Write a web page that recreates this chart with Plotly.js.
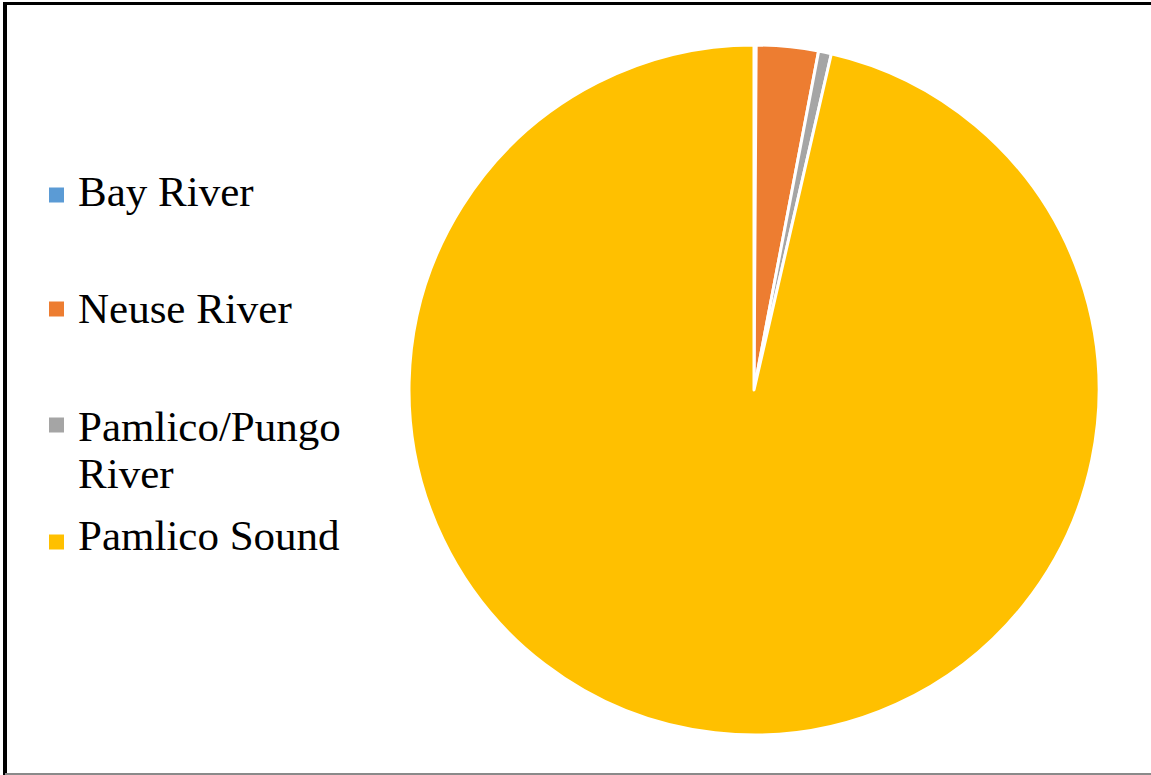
<!DOCTYPE html>
<html>
<head>
<meta charset="utf-8">
<script src="https://cdn.plot.ly/plotly-3.0.1.min.js"></script>
<style>
html, body { margin: 0; padding: 0; background: #fff; }
#chart { width: 1151px; height: 775px; }
</style>
</head>
<body>
<div id="chart"></div>
<script>
// Data
const labels = ["Bay River", "Neuse River", "Pamlico/Pungo River", "Pamlico Sound"];
const legendLines = [["Bay River"], ["Neuse River"], ["Pamlico/Pungo", "River"], ["Pamlico Sound"]];
const values = [0.1, 2.9, 0.6, 96.4];
const colors = ["#5B9BD5", "#ED7D31", "#A5A5A5", "#FFC000"];

// Layout helpers (pixel positions for the legend entries)
const W = 1151, H = 775;
const legendTextCenterY = [191, 308, 426, 535];
const legendLineGap = 47;
const legendMarkerCenterY = [195, 309, 425, 542];
const fontFamily = "Liberation Serif, Times New Roman, serif";

const px = x => x / W;
const py = y => 1 - y / H;

const annotations = [];
legendLines.forEach((lines, i) => {
  lines.forEach((t, j) => {
    annotations.push({
      xref: 'paper', yref: 'paper',
      x: px(76), y: py(legendTextCenterY[i] + j * legendLineGap),
      xanchor: 'left', yanchor: 'middle', align: 'left',
      text: t, showarrow: false,
      font: { family: fontFamily, size: 43, color: '#000' }
    });
  });
});

const shapes = colors.map((c, i) => ({
  type: 'rect', xref: 'paper', yref: 'paper',
  x0: px(49), x1: px(64),
  y0: py(legendMarkerCenterY[i] + 7.5), y1: py(legendMarkerCenterY[i] - 7.5),
  fillcolor: c, line: { width: 0 }
}));

// Frame lines
shapes.push(
  { type: 'line', xref: 'paper', yref: 'paper', x0: px(3), x1: 1, y0: py(3.5), y1: py(3.5), line: { color: '#000', width: 3 } },
  { type: 'line', xref: 'paper', yref: 'paper', x0: px(5), x1: px(5), y0: py(2), y1: 0, line: { color: '#000', width: 4 } },
  { type: 'line', xref: 'paper', yref: 'paper', x0: px(5), x1: 1, y0: py(774), y1: py(774), line: { color: '#8a8a8a', width: 2 } }
);

const trace = {
  type: 'pie',
  labels: labels,
  values: values,
  sort: false,
  direction: 'clockwise',
  rotation: 0,
  textinfo: 'none',
  hoverinfo: 'label+percent',
  showlegend: false,
  marker: { colors: colors, line: { color: '#fff', width: 3 } },
  domain: { x: [px(409), px(1099)], y: [py(735), py(45)] }
};

const layout = {
  width: W, height: H,
  margin: { l: 0, r: 0, t: 0, b: 0 },
  paper_bgcolor: '#fff',
  showlegend: false,
  annotations: annotations,
  shapes: shapes
};

Plotly.newPlot('chart', [trace], layout, { displayModeBar: false, staticPlot: true });
</script>
</body>
</html>
